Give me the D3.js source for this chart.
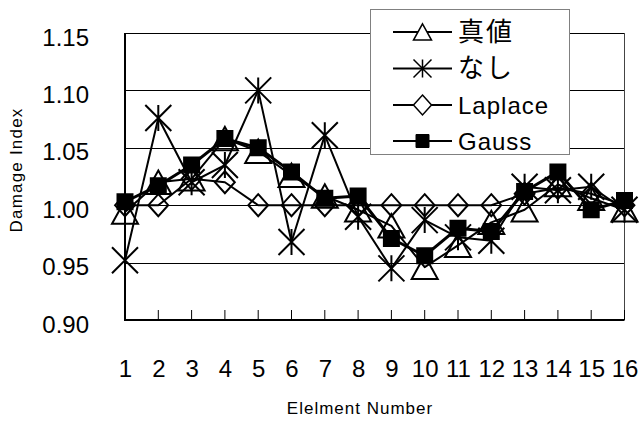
<!DOCTYPE html>
<html>
<head>
<meta charset="utf-8">
<script src="https://cdn.jsdelivr.net/npm/d3@7"></script>
<style>
  body { margin: 0; background: #fff; }
  text { font-family: "Liberation Sans", Arial, sans-serif; fill: #000; }
</style>
</head>
<body>
<div id="chart"></div>
<script>
// Data
const elements = ["1","2","3","4","5","6","7","8","9","10","11","12","13","14","15","16"];
const trueVals    = [0.994,1.020,1.023,1.058,1.047,1.026,1.008,0.996,0.982,0.946,0.965,0.985,0.996,1.018,1.006,0.996];
const noneVals    = [0.952,1.076,1.020,1.035,1.100,0.968,1.061,0.990,0.945,0.987,0.972,0.969,1.016,1.013,1.016,0.996];
const laplaceVals = [1.000,1.000,1.023,1.020,1.000,1.000,1.000,1.000,1.000,1.000,1.000,1.000,1.010,1.015,1.010,1.000];
const gaussVals   = [1.003,1.017,1.035,1.058,1.050,1.029,1.006,1.008,0.971,0.956,0.980,0.977,1.012,1.029,0.996,1.004];
const seriesNames = ["真値", "なし", "Laplace", "Gauss"];
const yTicks = [0.90, 0.95, 1.00, 1.05, 1.10, 1.15];

const WIDTH = 640, HEIGHT = 423;
const PLOT = {left: 125, right: 624.5, top: 33, bottom: 320};

const svg = d3.select("#chart").append("svg")
  .attr("width", WIDTH)
  .attr("height", HEIGHT);

const x = d3.scalePoint()
  .domain(elements)
  .range([PLOT.left, PLOT.right]);

const y = d3.scaleLinear()
  .domain([0.90, 1.15])
  .range([PLOT.bottom, PLOT.top]);

// gridlines
svg.append("g")
  .selectAll("line")
  .data(yTicks.slice(1))
  .enter().append("line")
  .attr("x1", PLOT.left).attr("x2", PLOT.right)
  .attr("y1", d => Math.round(y(d)) + 0.5).attr("y2", d => Math.round(y(d)) + 0.5)
  .attr("stroke", "#000")
  .attr("stroke-width", 1);

// right border
svg.append("line")
  .attr("x1", PLOT.right).attr("x2", PLOT.right)
  .attr("y1", PLOT.top).attr("y2", PLOT.bottom)
  .attr("stroke", "#444").attr("stroke-width", 1);

// inner ticks on bottom axis
svg.append("g")
  .selectAll("line")
  .data(elements)
  .enter().append("line")
  .attr("x1", d => x(d)).attr("x2", d => x(d))
  .attr("y1", PLOT.bottom).attr("y2", PLOT.bottom - 10)
  .attr("stroke", "#000").attr("stroke-width", 1);

// axes
const yAxis = svg.append("g")
  .attr("transform", `translate(${PLOT.left},0)`)
  .call(d3.axisLeft(y).tickValues(yTicks).tickFormat(d3.format(".2f")).tickSize(0).tickPadding(36));
yAxis.select(".domain").remove();
yAxis.selectAll("text").attr("font-size", 24).attr("dy", "0.5em")
  .style("font-family", "'Liberation Sans', Arial, sans-serif");

const xAxis = svg.append("g")
  .attr("transform", `translate(0,${PLOT.bottom})`)
  .call(d3.axisBottom(x).tickSize(0).tickPadding(40));
xAxis.select(".domain").remove();
xAxis.selectAll("text").attr("font-size", 24)
  .style("font-family", "'Liberation Sans', Arial, sans-serif");

svg.append("line")
  .attr("x1", PLOT.left).attr("x2", PLOT.left)
  .attr("y1", PLOT.top).attr("y2", PLOT.bottom + 1)
  .attr("stroke", "#000").attr("stroke-width", 2);
svg.append("line")
  .attr("x1", PLOT.left - 1).attr("x2", PLOT.right)
  .attr("y1", PLOT.bottom).attr("y2", PLOT.bottom)
  .attr("stroke", "#000").attr("stroke-width", 2);

// axis titles
svg.append("text")
  .attr("transform", "translate(22,170) rotate(-90)")
  .attr("text-anchor", "middle")
  .attr("font-size", 17)
  .attr("letter-spacing", 1.2)
  .text("Damage Index");

svg.append("text")
  .attr("x", 360).attr("y", 414)
  .attr("text-anchor", "middle")
  .attr("font-size", 17)
  .attr("letter-spacing", 1)
  .text("Elelment Number");

// marker paths
function markerPath(type, cx, cy, s) {
  if (type === "triangle") {
    const w = s, h = s * 0.9;
    return `M${cx},${cy - h / 2}L${cx + w / 2},${cy + h / 2}L${cx - w / 2},${cy + h / 2}Z`;
  }
  if (type === "star") {
    const r = s / 2;
    return `M${cx - r},${cy - r}L${cx + r},${cy + r}M${cx - r},${cy + r}L${cx + r},${cy - r}M${cx},${cy - r}L${cx},${cy + r}`;
  }
  if (type === "diamond") {
    const w = s * 0.9 / 2, h = s / 2;
    return `M${cx},${cy - h}L${cx + w},${cy}L${cx},${cy + h}L${cx - w},${cy}Z`;
  }
  const h = s / 2;
  return `M${cx - h},${cy - h}H${cx + h}V${cy + h}H${cx - h}Z`;
}

const series = [
  {name: seriesNames[0], values: trueVals, type: "triangle", size: 26, legendSize: 18, width: 2},
  {name: seriesNames[1], values: noneVals, type: "star", size: 26, legendSize: 18, width: 2},
  {name: seriesNames[2], values: laplaceVals, type: "diamond", size: 22, legendSize: 20, width: 2},
  {name: seriesNames[3], values: gaussVals, type: "square", size: 15, legendSize: 13, width: 3}
];

const line = d3.line()
  .x((d, i) => x(elements[i]))
  .y(d => y(d));

series.forEach(s => {
  const g = svg.append("g");
  g.append("path")
    .datum(s.values)
    .attr("d", line)
    .attr("fill", "none")
    .attr("stroke", "#000")
    .attr("stroke-width", s.width)
    .attr("stroke-linejoin", "round");
  g.selectAll(".mk")
    .data(s.values)
    .enter().append("path")
    .attr("class", "mk")
    .attr("d", (d, i) => markerPath(s.type, x(elements[i]), y(d), s.size))
    .attr("fill", s.type === "square" ? "#000" : "none")
    .attr("stroke", "#000")
    .attr("stroke-width", 2);
});

// legend
const legend = svg.append("g");
legend.append("rect")
  .attr("x", 370.5).attr("y", 9.5)
  .attr("width", 199).attr("height", 145)
  .attr("fill", "#fff")
  .attr("stroke", "#808080")
  .attr("stroke-width", 1);

const rowY = [32, 68.5, 105, 141];
series.forEach((s, i) => {
  const cy = rowY[i];
  legend.append("line")
    .attr("x1", 393).attr("x2", 452)
    .attr("y1", cy).attr("y2", cy)
    .attr("stroke", "#000").attr("stroke-width", 2);
  legend.append("path")
    .attr("d", markerPath(s.type, 422.5, cy, s.legendSize))
    .attr("fill", s.type === "square" ? "#000" : "#fff")
    .attr("stroke", "#000")
    .attr("stroke-width", s.type === "square" ? 1 : 1.5);
  legend.append("text")
    .attr("x", 458).attr("y", cy + 8.5)
    .attr("font-size", i < 2 ? 26 : 24)
    .attr("letter-spacing", i < 2 ? 2 : 1)
    .style("font-family", i < 2 ? "'Noto Sans CJK JP', sans-serif" : "'Liberation Sans', Arial, sans-serif")
    .text(s.name);
});
</script>
</body>
</html>
